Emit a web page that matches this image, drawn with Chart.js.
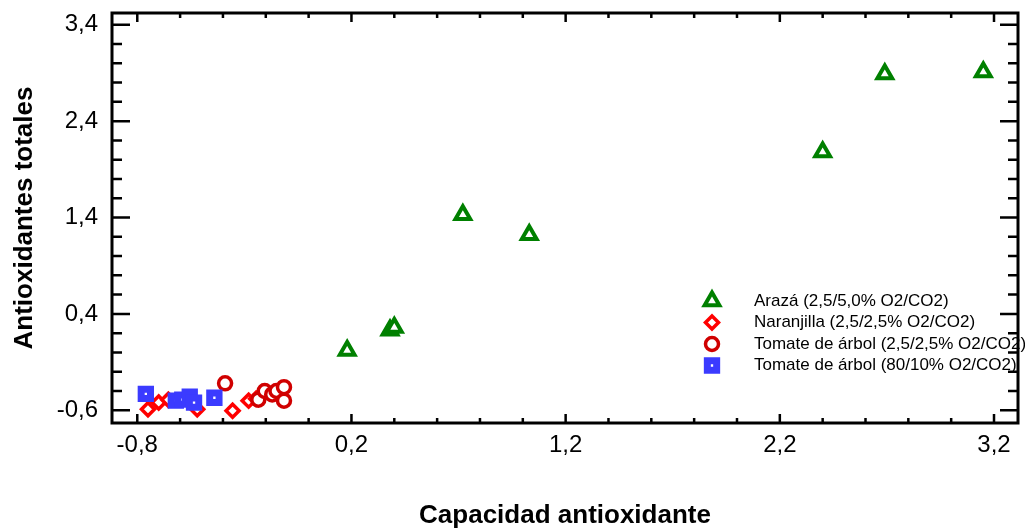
<!DOCTYPE html>
<html>
<head>
<meta charset="utf-8">
<script src="https://cdn.jsdelivr.net/npm/chart.js@4.4.0/dist/chart.umd.min.js"></script>
<style>
  html, body { margin: 0; padding: 0; background: #fff; }
</style>
</head>
<body>
<canvas id="chart" width="1025" height="529"></canvas>
<script>
// data
var labels = [
  'Arazá (2,5/5,0% O2/CO2)',
  'Naranjilla (2,5/2,5% O2/CO2)',
  'Tomate de árbol (2,5/2,5% O2/CO2)',
  'Tomate de árbol (80/10% O2/CO2)'
];
var arazaX = [0.18, 0.38, 0.40, 0.72, 1.03, 2.40, 2.69, 3.15];
var arazaY = [0.02, 0.23, 0.26, 1.43, 1.22, 2.08, 2.89, 2.91];
var naranjillaX = [-0.75, -0.70, -0.655, -0.52, -0.355, -0.28, -0.245];
var naranjillaY = [-0.59, -0.52, -0.49, -0.59, -0.605, -0.50, -0.48];
var tomate25X = [-0.39, -0.235, -0.205, -0.17, -0.15, -0.115, -0.115];
var tomate25Y = [-0.32, -0.49, -0.40, -0.435, -0.40, -0.36, -0.50];
var tomate80X = [-0.76, -0.62, -0.59, -0.555, -0.535, -0.44];
var tomate80Y = [-0.43, -0.50, -0.49, -0.46, -0.52, -0.47];

var xTicks = [-0.8, 0.2, 1.2, 2.2, 3.2];
var xTickLabels = ['-0,8', '0,2', '1,2', '2,2', '3,2'];
var yTicks = [-0.6, 0.4, 1.4, 2.4, 3.4];
var yTickLabels = ['-0,6', '0,4', '1,4', '2,4', '3,4'];

var font = "'Liberation Sans', Arial, sans-serif";

function pts(xs, ys) {
  var out = [];
  for (var i = 0; i < xs.length; i++) {
    out.push({x: xs[i], y: ys[i]});
  }
  return out;
}

// inward ticks on all four sides + frame
var frameTicks = {
  id: 'frameTicks',
  beforeDatasetsDraw: function(chart) {
    var ctx = chart.ctx, a = chart.chartArea;
    var x = chart.scales.x, y = chart.scales.y;
    ctx.save();
    ctx.strokeStyle = '#000';
    ctx.lineWidth = 2.5;
    ctx.beginPath();
    for (var k = 0; k <= 20; k++) {
      var px = x.getPixelForValue(-0.8 + 0.2 * k);
      var lx = (k % 5 == 0) ? 9 : 5;
      ctx.moveTo(px, a.bottom); ctx.lineTo(px, a.bottom - lx);
      ctx.moveTo(px, a.top); ctx.lineTo(px, a.top + lx);
      var py = y.getPixelForValue(-0.6 + 0.2 * k);
      var ly = (k % 5 == 0) ? 18 : 10;
      ctx.moveTo(a.left, py); ctx.lineTo(a.left + ly, py);
      ctx.moveTo(a.right, py); ctx.lineTo(a.right - ly, py);
    }
    ctx.stroke();
    ctx.lineWidth = 3;
    ctx.strokeRect(a.left, a.top, a.right - a.left, a.bottom - a.top);
    ctx.restore();
  }
};

// legend drawn inside the plot
var innerLegend = {
  id: 'innerLegend',
  afterDraw: function(chart) {
    var ctx = chart.ctx;
    ctx.save();
    ctx.font = '17px ' + font;
    ctx.textBaseline = 'middle';
    ctx.textAlign = 'left';
    chart.data.datasets.forEach(function(ds, i) {
      var yy = 301 + i * 21.5;
      ctx.fillStyle = ds.pointBackgroundColor;
      ctx.strokeStyle = ds.pointBorderColor;
      ctx.lineWidth = ds.pointBorderWidth;
      if (Chart.helpers && Chart.helpers.drawPoint) {
        Chart.helpers.drawPoint(ctx, {
          pointStyle: ds.pointStyle,
          radius: ds.pointRadius,
          rotation: 0,
          borderWidth: ds.pointBorderWidth
        }, 712, yy);
      }
      ctx.fillStyle = '#000';
      ctx.fillText(ds.label, 754, yy);
    });
    ctx.restore();
  }
};

new Chart(document.getElementById('chart'), {
  type: 'scatter',
  data: {
    datasets: [
      {
        label: labels[0],
        data: pts(arazaX, arazaY),
        pointStyle: 'triangle',
        pointRadius: 8.5,
        pointBorderWidth: 4,
        pointBorderColor: '#008000',
        pointBackgroundColor: '#ffffff',
        order: 3
      },
      {
        label: labels[1],
        data: pts(naranjillaX, naranjillaY),
        pointStyle: 'rectRot',
        pointRadius: 6.5,
        pointBorderWidth: 3.5,
        pointBorderColor: '#ff0000',
        pointBackgroundColor: '#ffffff',
        order: 2
      },
      {
        label: labels[2],
        data: pts(tomate25X, tomate25Y),
        pointStyle: 'circle',
        pointRadius: 6.5,
        pointBorderWidth: 3.5,
        pointBorderColor: '#d00000',
        pointBackgroundColor: '#ffffff',
        order: 1
      },
      {
        label: labels[3],
        data: pts(tomate80X, tomate80Y),
        pointStyle: 'rect',
        pointRadius: 6.6,
        pointBorderWidth: 7,
        pointBorderColor: '#3b3bff',
        pointBackgroundColor: '#ffffff',
        order: 0
      }
    ]
  },
  options: {
    responsive: false,
    animation: false,
    layout: {autoPadding: false, padding: {top: 13, right: 7, left: 0, bottom: 0}},
    plugins: {
      legend: {display: false},
      tooltip: {enabled: false}
    },
    scales: {
      x: {
        type: 'linear',
        min: -0.918,
        max: 3.312,
        grid: {display: false, drawTicks: false},
        border: {display: false},
        afterBuildTicks: function(s) {
          s.ticks = xTicks.map(function(v) { return {value: v}; });
        },
        afterFit: function(s) {
          s.height = 106;
          s.paddingLeft = 0;
          s.paddingRight = 0;
        },
        ticks: {
          autoSkip: false,
          maxRotation: 0,
          padding: 8,
          color: '#000',
          font: {family: font, size: 24},
          callback: function(v, i) { return xTickLabels[i]; }
        },
        title: {
          display: true,
          text: 'Capacidad antioxidante',
          color: '#000',
          padding: {top: 0, bottom: 0},
          font: {family: font, size: 26, weight: 'bold', lineHeight: 1}
        }
      },
      y: {
        type: 'linear',
        min: -0.732,
        max: 3.522,
        grid: {display: false, drawTicks: false},
        border: {display: false},
        afterBuildTicks: function(s) {
          s.ticks = yTicks.map(function(v) { return {value: v}; });
        },
        afterFit: function(s) {
          s.width = 112;
          s.paddingTop = 0;
          s.paddingBottom = 0;
        },
        ticks: {
          autoSkip: false,
          padding: 14,
          color: '#000',
          font: {family: font, size: 24},
          callback: function(v, i) { return yTickLabels[i]; }
        },
        title: {
          display: true,
          text: 'Antioxidantes totales',
          color: '#000',
          padding: {top: 12, bottom: 0},
          font: {family: font, size: 26, weight: 'bold', lineHeight: 1}
        }
      }
    }
  },
  plugins: [frameTicks, innerLegend]
});
</script>
</body>
</html>
